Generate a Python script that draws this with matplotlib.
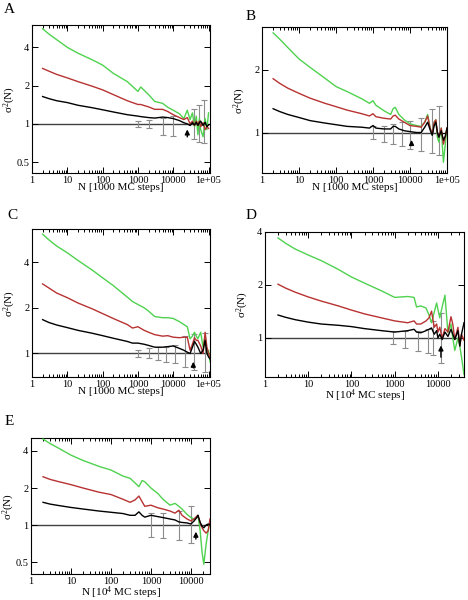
import numpy as np
import matplotlib
matplotlib.use("Agg")
import matplotlib.pyplot as plt
from matplotlib.ticker import FixedLocator, FixedFormatter, NullLocator, LogLocator

plt.rcParams['font.family'] = ['Liberation Serif', 'DejaVu Serif']
plt.rcParams['mathtext.fontset'] = 'custom'
plt.rcParams['mathtext.rm'] = 'Liberation Serif'
plt.rcParams['mathtext.it'] = 'Liberation Serif:italic'

# ---- panel A ----
n_a = [2, 3, 5, 10, 20, 50, 100, 200, 500, 1000, 1200, 2000, 3000, 5000, 7000, 10000,
       15000, 20000, 25000, 30000, 35000, 40000, 45000, 50000, 55000, 60000, 70000, 80000, 90000, 100000]
green_a = [5.6, 5.1, 4.6, 4.0, 3.6, 3.2, 2.9, 2.5, 2.15, 1.8, 1.95, 1.7, 1.5, 1.45, 1.35, 1.28,
           1.2, 1.1, 1.28, 1.08, 1.22, 0.95, 1.15, 0.82, 1.1, 0.9, 0.79, 1.1, 0.9, 1.22]
red_a = [2.73, 2.6, 2.45, 2.3, 2.15, 1.98, 1.85, 1.7, 1.52, 1.42, 1.42, 1.36, 1.3, 1.3, 1.25, 1.18,
         1.12, 1.08, 1.12, 1.0, 1.05, 0.97, 1.05, 0.98, 1.05, 0.95, 1.02, 0.9, 0.95, 0.92]
black_a = [1.64, 1.58, 1.52, 1.47, 1.4, 1.34, 1.29, 1.24, 1.18, 1.15, 1.14, 1.12, 1.11, 1.13, 1.12, 1.1,
           1.06, 1.02, 1.0, 0.97, 1.02, 0.98, 1.03, 0.97, 1.02, 1.05, 0.97, 1.03, 0.95, 0.98]
err_n_a = [1000, 2000, 5000, 10000, 40000, 55000, 75000]
err_lo_a = [0.95, 0.92, 0.82, 0.8, 0.76, 0.72, 0.7]
err_hi_a = [1.06, 1.08, 1.12, 1.16, 1.3, 1.4, 1.55]
arrow_a = (25000, 0.95, 0.75)

# ---- panel B ----
n_b = [2, 3, 5, 10, 20, 50, 100, 200, 500, 800, 1000, 1200, 2000, 3000, 3500, 4000, 5000, 7000,
       10000, 15000, 20000, 25000, 30000, 35000, 40000, 45000, 50000, 55000, 60000, 70000, 80000, 90000, 100000]
green_b = [3.0, 2.8, 2.55, 2.25, 2.05, 1.82, 1.66, 1.57, 1.45, 1.38, 1.42, 1.35, 1.27, 1.22, 1.3, 1.32, 1.22, 1.15,
           1.1, 1.08, 1.07, 1.12, 1.22, 1.05, 0.97, 1.12, 1.15, 0.95, 0.9, 1.05, 0.72, 0.88, 1.05]
red_b = [1.81, 1.72, 1.63, 1.54, 1.46, 1.38, 1.33, 1.28, 1.23, 1.2, 1.23, 1.19, 1.17, 1.16, 1.2, 1.21, 1.16, 1.12,
         1.08, 1.07, 1.06, 1.12, 1.2, 1.05, 0.98, 1.12, 1.15, 1.0, 0.95, 1.05, 0.88, 0.95, 1.05]
black_b = [1.30, 1.26, 1.22, 1.18, 1.14, 1.11, 1.09, 1.07, 1.06, 1.05, 1.08, 1.05, 1.04, 1.04, 1.07, 1.07, 1.04, 1.02,
           1.01, 1.0, 1.0, 1.06, 1.12, 1.03, 0.97, 1.08, 1.12, 1.0, 0.95, 1.02, 0.92, 0.96, 1.05]
err_n_b = [1000, 2000, 3500, 6000, 10000, 20000, 40000, 60000]
err_lo_b = [0.93, 0.9, 0.88, 0.86, 0.83, 0.82, 0.8, 0.78]
err_hi_b = [1.07, 1.08, 1.1, 1.12, 1.14, 1.18, 1.3, 1.34]
arrow_b = (11000, 0.95, 0.84)

# ---- panel C ----
n_c = [2, 3, 5, 10, 20, 50, 100, 200, 500, 700, 1000, 1500, 2000, 3000, 5000, 7000, 10000, 15000,
       20000, 25000, 30000, 35000, 40000, 45000, 50000, 60000, 70000, 80000, 90000, 100000, 110000]
green_c = [6.1, 5.6, 5.1, 4.6, 4.1, 3.55, 3.15, 2.8, 2.35, 2.2, 2.1, 2.0, 1.9, 1.75, 1.72, 1.72, 1.7, 1.62,
           1.55, 1.5, 1.25, 1.3, 1.38, 1.3, 1.25, 1.38, 1.1, 1.3, 1.0, 1.05, 0.88]
red_c = [2.87, 2.7, 2.5, 2.33, 2.15, 1.97, 1.83, 1.7, 1.55, 1.47, 1.5, 1.42, 1.38, 1.33, 1.3, 1.31, 1.28, 1.27,
         1.28, 1.28, 1.05, 1.15, 1.27, 1.22, 1.22, 1.12, 1.0, 1.38, 1.1, 1.0, 0.95]
black_c = [1.67, 1.6, 1.54, 1.48, 1.42, 1.36, 1.31, 1.26, 1.2, 1.17, 1.17, 1.15, 1.13, 1.1, 1.1, 1.11, 1.12, 1.08,
           1.05, 1.02, 1.0, 1.1, 1.2, 1.15, 1.1, 1.0, 1.05, 1.22, 1.0, 0.95, 0.92]
err_n_c = [1000, 2000, 3700, 6300, 11000, 22000, 40000, 80000]
err_lo_c = [0.95, 0.93, 0.9, 0.88, 0.86, 0.81, 0.78, 0.75]
err_hi_c = [1.05, 1.08, 1.1, 1.11, 1.13, 1.31, 1.35, 1.37]
arrow_c = (37000, 0.92, 0.77)

# ---- panel D ----
n_d = [2, 3, 5, 10, 20, 50, 100, 200, 500, 1000, 2000, 2800, 3200, 4000, 5300, 6200, 7100, 8200,
       9300, 10000, 11000, 12500, 14500, 17000, 20000, 22000, 24500, 29000, 32000, 35000, 40000]
green_d = [3.7, 3.45, 3.2, 2.96, 2.75, 2.45, 2.22, 2.05, 1.85, 1.7, 1.72, 1.7, 1.5, 1.52, 1.48, 1.35, 1.22, 1.4,
           1.58, 1.45, 1.3, 1.5, 1.75, 1.07, 1.2, 1.0, 0.85, 1.0, 0.9, 0.78, 0.62]
red_d = [2.02, 1.92, 1.82, 1.71, 1.62, 1.52, 1.44, 1.37, 1.3, 1.25, 1.22, 1.25, 1.2, 1.2, 1.25, 1.3, 1.42, 1.15,
         1.2, 1.08, 1.15, 1.0, 1.13, 1.08, 1.32, 1.2, 0.98, 1.15, 0.9, 1.05, 0.97]
black_d = [1.35, 1.31, 1.27, 1.23, 1.2, 1.18, 1.16, 1.13, 1.1, 1.08, 1.1, 1.12, 1.08, 1.07, 1.1, 1.12, 1.14, 1.05,
           1.1, 1.0, 1.05, 0.98, 1.08, 1.02, 1.12, 1.05, 0.98, 1.1, 0.9, 1.05, 1.22]
err_n_d = [900, 1700, 3400, 5800, 7600, 11700]
err_lo_d = [0.92, 0.88, 0.84, 0.82, 0.8, 0.72]
err_hi_d = [1.09, 1.1, 1.1, 1.12, 1.25, 1.38]
arrow_d = (11700, 0.94, 0.75)

# ---- panel E ----
n_e = [2, 3, 5, 10, 20, 50, 100, 200, 300, 400, 500, 600, 700, 1000, 1500, 2000, 3000, 4000, 5000, 6000,
       8000, 10000, 12000, 14000, 15000, 17000, 19000, 21000, 24000, 27000, 30000]
green_e = [5.0, 4.6, 4.2, 3.7, 3.35, 3.0, 2.8, 2.5, 2.4, 2.2, 2.05, 2.3, 2.25, 2.0, 1.8, 1.62, 1.45, 1.5, 1.42, 1.35,
           1.22, 1.15, 1.12, 1.15, 1.2, 0.9, 0.6, 0.48, 0.7, 0.9, 1.05]
red_e = [2.47, 2.35, 2.25, 2.13, 2.0, 1.85, 1.77, 1.62, 1.53, 1.6, 1.72, 1.55, 1.42, 1.45, 1.38, 1.35, 1.3, 1.25, 1.32, 1.2,
         1.12, 1.08, 1.12, 1.18, 1.2, 1.05, 0.95, 0.9, 0.86, 0.9, 1.12]
black_e = [1.53, 1.48, 1.44, 1.39, 1.35, 1.3, 1.27, 1.24, 1.2, 1.2, 1.28, 1.2, 1.16, 1.2, 1.17, 1.15, 1.12, 1.1, 1.06, 1.05,
           1.04, 1.02, 1.08, 1.15, 1.2, 1.05, 0.98, 0.95, 1.0, 1.02, 1.0]
err_n_e = [1000, 2000, 5000, 10000]
err_lo_e = [0.8, 0.78, 0.76, 0.72]
err_hi_e = [1.25, 1.25, 1.3, 1.42]
arrow_e = (13300, 0.93, 0.73)

GREEN = '#4fd24f'
RED = '#b83232'
W, H = 468.0, 600.0


def panel(rect, letter, letter_xy, n, black, red, green, err_n, err_lo, err_hi, arrow,
          xmax, ylim, yticks, xticks, xticklabels, xlabel):
    # rect in pixels: left, top, right, bottom
    l, t, r, b = rect
    ax = fig.add_axes([l / W, 1 - b / H, (r - l) / W, (b - t) / H])
    ax.set_xscale('log')
    ax.set_yscale('log')

    ax.axhline(1.0, color='0.25', lw=1.0, zorder=1)
    y0 = np.ones(len(err_n))
    yerr = [y0 - np.array(err_lo), np.array(err_hi) - y0]
    ax.errorbar(err_n, y0, yerr=yerr, fmt='none', ecolor='0.55', elinewidth=0.8,
                capsize=2, capthick=0.8, zorder=2)

    ax.plot(n, green, color=GREEN, lw=1.0, zorder=3)
    ax.plot(n, red, color=RED, lw=1.0, zorder=4)
    ax.plot(n, black, color='black', lw=1.0, zorder=5)

    ax.annotate('', xy=(arrow[0], arrow[1]), xytext=(arrow[0], arrow[2]),
                arrowprops=dict(arrowstyle='-|>', color='black', lw=1.0, mutation_scale=7),
                zorder=6)

    ax.set_xlim(1, xmax)
    ax.set_ylim(*ylim)
    ax.xaxis.set_major_locator(FixedLocator(xticks))
    ax.xaxis.set_major_formatter(FixedFormatter(xticklabels))
    ax.xaxis.set_minor_locator(LogLocator(base=10, subs=np.arange(2, 10), numticks=20))
    ax.yaxis.set_major_locator(FixedLocator(yticks))
    ax.yaxis.set_major_formatter(FixedFormatter([('%g' % v) for v in yticks]))
    ax.yaxis.set_minor_locator(NullLocator())
    ax.tick_params(which='both', direction='in', top=True, right=True, labelsize=7.5, pad=2, width=0.7)
    ax.tick_params(which='major', length=4)
    ax.tick_params(which='minor', length=2)
    for s in ax.spines.values():
        s.set_linewidth(0.8)
    ax.set_xlabel(xlabel, fontsize=8, labelpad=-1)
    ax.set_ylabel('σ$^2$(N)', fontsize=8)
    ax.yaxis.set_label_coords(-14.0 / (r - l), 0.5)
    fig.text(letter_xy[0] / W, 1 - letter_xy[1] / H, letter, fontsize=11, ha='left', va='top')
    return ax


fig = plt.figure(figsize=(4.68, 6.0), dpi=100)

xt5 = [1, 10, 100, 1000, 10000, 100000]
xl5 = ['1', '10', '100', '1000', '10000', '1e+05']
xt4 = [1, 10, 100, 1000, 10000]
xl4 = ['1', '10', '100', '1000', '10000']

panel((32, 25, 210, 173), 'A', (4, 3), n_a, black_a, red_a, green_a,
      err_n_a, err_lo_a, err_hi_a, arrow_a, 1.1e5, (0.41, 6.0), [0.5, 1, 2, 4],
      xt5, xl5, 'N [1000 MC steps]')
panel((262, 27, 447, 173), 'B', (246, 10), n_b, black_b, red_b, green_b,
      err_n_b, err_lo_b, err_hi_b, arrow_b, 1.0e5, (0.64, 3.2), [1, 2],
      xt5, xl5, 'N [1000 MC steps]')
panel((32, 229, 210, 377), 'C', (7, 209), n_c, black_c, red_c, green_c,
      err_n_c, err_lo_c, err_hi_c, arrow_c, 1.1e5, (0.70, 6.6), [1, 2, 4],
      xt5, xl5, 'N [1000 MC steps]')
panel((265, 232, 464, 377), 'D', (246, 209), n_d, black_d, red_d, green_d,
      err_n_d, err_lo_d, err_hi_d, arrow_d, 4.0e4, (0.60, 4.0), [1, 2, 4],
      xt4, xl4, 'N [10$^4$ MC steps]')
panel((31, 438, 210, 574), 'E', (5, 415), n_e, black_e, red_e, green_e,
      err_n_e, err_lo_e, err_hi_e, arrow_e, 3.0e4, (0.40, 5.1), [0.5, 1, 2, 4],
      xt4, xl4, 'N [10$^4$ MC steps]')

fig.savefig('out.png', dpi=100)
